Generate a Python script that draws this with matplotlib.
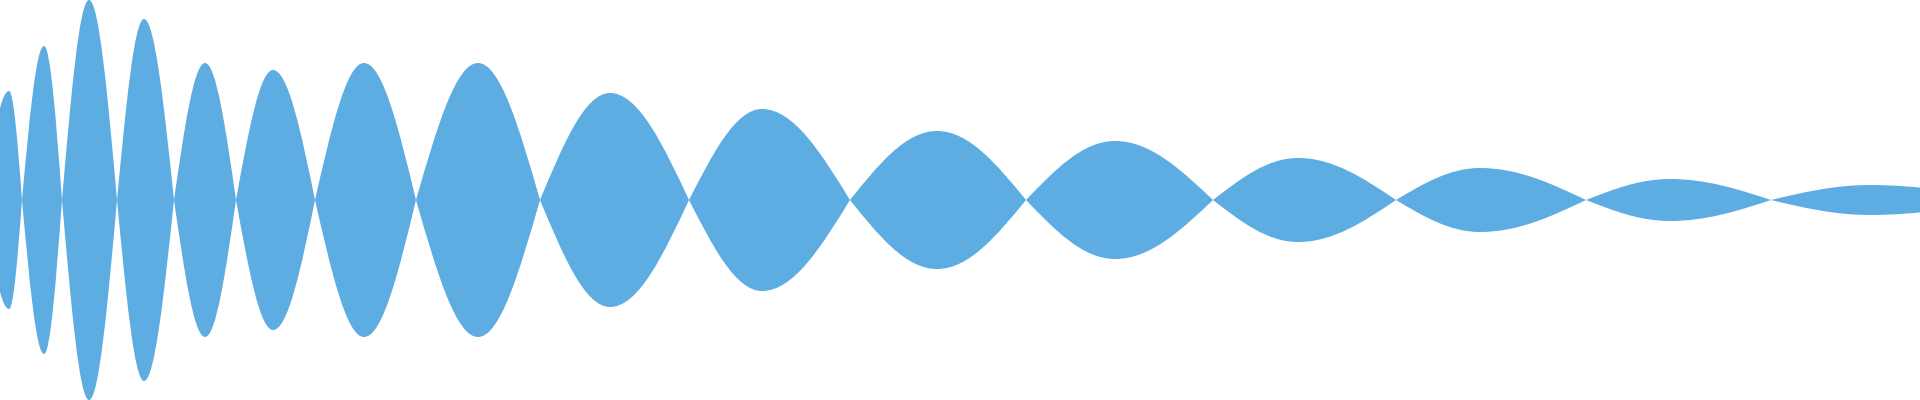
import matplotlib
matplotlib.use("Agg")
import matplotlib.pyplot as plt
from matplotlib.path import Path
from matplotlib.patches import PathPatch

# zero crossings (nodes) of the waveform, x position
node_x = [-16, 22, 62, 117, 174, 236, 315, 416, 540, 689, 850, 1026, 1213, 1396, 1586, 1771, 2003]
# position and amplitude of each lobe's peak
peak_x = [9, 44, 89, 144, 205, 273, 364, 478, 610, 762, 937, 1115, 1298, 1480, 1670, 1870]
peak_amp = [109, 154, 200, 181, 137, 130, 137, 137, 107, 91, 69, 59, 42, 32, 21, 15]

COLOR = "#5DADE2"

# cubic Bezier shape factors for a smooth (sine-like) quarter wave
K1, K2, H = 0.3258, 0.638, 0.5118


def outline(sign):
    verts = [(node_x[0], 0.0)]
    for i in range(len(peak_x)):
        x0, xp, x1 = node_x[i], peak_x[i], node_x[i + 1]
        a = sign * peak_amp[i]
        w = xp - x0
        verts += [(x0 + K1 * w, H * a), (x0 + K2 * w, a), (xp, a)]
        w = x1 - xp
        verts += [(xp + (1 - K2) * w, a), (xp + (1 - K1) * w, H * a), (x1, 0.0)]
    return verts


upper = outline(1)
lower = outline(-1)
verts = upper + lower[::-1][1:] + [upper[0]]
codes = [Path.MOVETO] + [Path.CURVE4] * (len(upper) - 1) + [Path.CURVE4] * (len(lower) - 1) + [Path.CLOSEPOLY]

fig = plt.figure(figsize=(19.2, 4), dpi=100)
fig.patch.set_facecolor("white")
ax = fig.add_axes([0, 0, 1, 1])
ax.set_xlim(0, 1920)
ax.set_ylim(-200, 200)
ax.axis("off")
ax.add_patch(PathPatch(Path(verts, codes), facecolor=COLOR, edgecolor="none", lw=0))
fig.savefig("out.png", dpi=100, facecolor="white")
